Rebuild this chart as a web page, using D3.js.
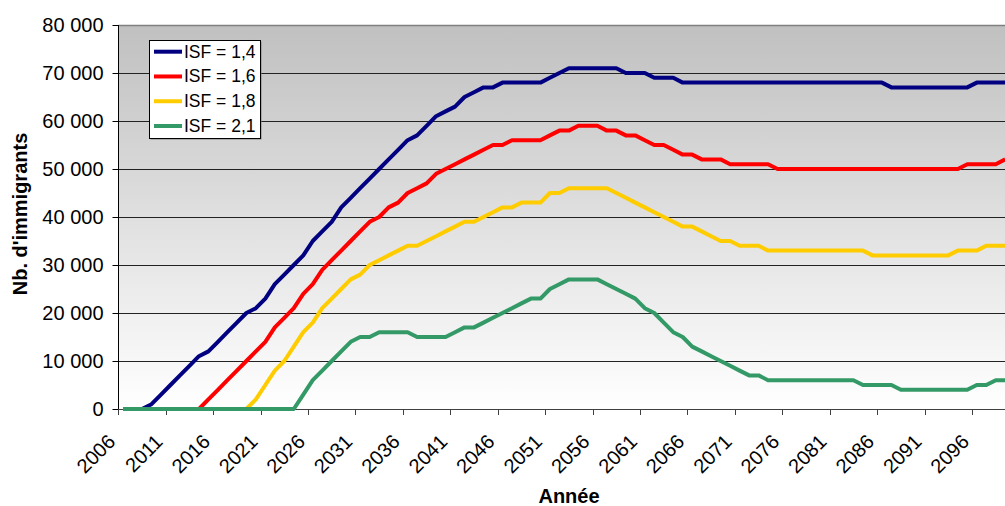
<!DOCTYPE html>
<html>
<head>
<meta charset="utf-8">
<script src="https://cdn.jsdelivr.net/npm/d3@7"></script>
<style>
  html, body { margin: 0; padding: 0; background: #ffffff; }
  svg { display: block; font-family: "Liberation Sans", Arial, sans-serif; }
</style>
</head>
<body>
<svg id="chart" width="1005" height="506"></svg>
<script>
// ---------- DATA ----------
const years = [2006,2007,2008,2009,2010,2011,2012,2013,2014,2015,2016,2017,2018,2019,2020,
  2021,2022,2023,2024,2025,2026,2027,2028,2029,2030,2031,2032,2033,2034,2035,2036,2037,2038,2039,2040,
  2041,2042,2043,2044,2045,2046,2047,2048,2049,2050,2051,2052,2053,2054,2055,2056,2057,2058,2059,2060,
  2061,2062,2063,2064,2065,2066,2067,2068,2069,2070,2071,2072,2073,2074,2075,2076,2077,2078,2079,2080,
  2081,2082,2083,2084,2085,2086,2087,2088,2089,2090,2091,2092,2093,2094,2095,2096,2097,2098,2099];

const xTickLabels = ["2006","2011","2016","2021","2026","2031","2036","2041","2046","2051",
  "2056","2061","2066","2071","2076","2081","2086","2091","2096"];

const yTicks = [0,10000,20000,30000,40000,50000,60000,70000,80000];

const seriesNames = ["ISF = 1,4","ISF = 1,6","ISF = 1,8","ISF = 2,1"];
const seriesColors = ["#000080","#ff0000","#ffcc00","#339966"];

// values in thousands, one per year 2006..2099
const isf14 = [0,0,0,1,3,5,7,9,11,12,14,16,18,20,21,23,26,28,30,32,35,37,39,42,44,46,48,50,52,54,
  56,57,59,61,62,63,65,66,67,67,68,68,68,68,68,69,70,71,71,71,71,71,71,70,70,70,69,69,69,68,
  68,68,68,68,68,68,68,68,68,68,68,68,68,68,68,68,68,68,68,68,68,67,67,67,67,67,67,67,67,67,
  68,68,68,68];
const isf16 = [0,0,0,0,0,0,0,0,0,2,4,6,8,10,12,14,17,19,21,24,26,29,31,33,35,37,39,40,42,43,
  45,46,47,49,50,51,52,53,54,55,55,56,56,56,56,57,58,58,59,59,59,58,58,57,57,56,55,55,54,53,
  53,52,52,52,51,51,51,51,51,50,50,50,50,50,50,50,50,50,50,50,50,50,50,50,50,50,50,50,50,51,
  51,51,51,52];
const isf18 = [0,0,0,0,0,0,0,0,0,0,0,0,0,0,2,5,8,10,13,16,18,21,23,25,27,28,30,31,32,33,
  34,34,35,36,37,38,39,39,40,41,42,42,43,43,43,45,45,46,46,46,46,46,45,44,43,42,41,40,39,38,
  38,37,36,35,35,34,34,34,33,33,33,33,33,33,33,33,33,33,33,32,32,32,32,32,32,32,32,32,33,33,
  33,34,34,34];
const isf21 = [0,0,0,0,0,0,0,0,0,0,0,0,0,0,0,0,0,0,0,3,6,8,10,12,14,15,15,16,16,16,
  16,15,15,15,15,16,17,17,18,19,20,21,22,23,23,25,26,27,27,27,27,26,25,24,23,21,20,18,16,15,
  13,12,11,10,9,8,7,7,6,6,6,6,6,6,6,6,6,6,5,5,5,5,4,4,4,4,4,4,4,4,
  5,5,6,6];

const seriesValues = [isf14, isf16, isf18, isf21];

// ---------- LAYOUT ----------
(function draw() {
const svg = d3.select("#chart");
const pLeft = 118.3, step = 9.486;
const pTop = 25, pBottom = 409;
const FONT = '"Liberation Sans", Arial, sans-serif';

const x = d3.scaleBand().domain(years).range([pLeft, pLeft + years.length * step]).padding(0);
const y = d3.scaleLinear().domain([0, 80000]).range([pBottom, pTop]);
const xc = yr => x(yr) + x.bandwidth() / 2;

// background gradient
const defs = svg.append("defs");
const grad = defs.append("linearGradient").attr("id", "bg")
  .attr("x1", 0).attr("y1", 0).attr("x2", 0).attr("y2", 1);
grad.append("stop").attr("offset", "0%").attr("stop-color", "#c0c0c0");
grad.append("stop").attr("offset", "100%").attr("stop-color", "#ffffff");

const plotRight = pLeft + years.length * step;
svg.append("rect")
  .attr("x", pLeft).attr("y", pTop)
  .attr("width", plotRight - pLeft).attr("height", pBottom - pTop)
  .attr("fill", "url(#bg)");

// plot top border
svg.append("line")
  .attr("x1", pLeft).attr("x2", plotRight)
  .attr("y1", pTop + 0.5).attr("y2", pTop + 0.5)
  .attr("stroke", "#808080").attr("stroke-width", 1.5);

// gridlines
svg.append("g").selectAll("line")
  .data(yTicks.filter(d => d > 0 && d < 80000))
  .join("line")
  .attr("x1", pLeft).attr("x2", plotRight)
  .attr("y1", d => Math.round(y(d)) + 0.5).attr("y2", d => Math.round(y(d)) + 0.5)
  .attr("stroke", "#222").attr("stroke-width", 1);

// Y axis
const yAxis = d3.axisLeft(y).tickValues(yTicks).tickSize(6).tickPadding(9)
  .tickFormat(d => d3.format(",")(d).replace(/,/g, " "));
const gy = svg.append("g").attr("transform", `translate(${Math.round(pLeft) + 0.5},0)`).call(yAxis);
gy.select(".domain").attr("stroke", "#000").attr("d", `M0,${pTop}V${pBottom}`);
gy.selectAll(".tick line").attr("stroke", "#000");
gy.selectAll(".tick text").attr("font-size", "20px").attr("font-family", FONT).attr("fill", "#000");

// X axis line
svg.append("line")
  .attr("x1", pLeft).attr("x2", plotRight)
  .attr("y1", pBottom + 0.5).attr("y2", pBottom + 0.5)
  .attr("stroke", "#404040").attr("stroke-width", 1.2);

const tickYears = xTickLabels.map(Number);
svg.append("g").selectAll("line").data(tickYears).join("line")
  .attr("x1", d => Math.round(x(d)) + 0.5).attr("x2", d => Math.round(x(d)) + 0.5)
  .attr("y1", pBottom).attr("y2", pBottom + 6)
  .attr("stroke", "#404040");

svg.append("g").selectAll("text").data(xTickLabels).join("text")
  .attr("transform", d => `translate(${xc(+d) - 6.5},443) rotate(-45)`)
  .attr("text-anchor", "end")
  .attr("font-size", "20px").attr("font-family", FONT).attr("fill", "#000")
  .text(d => d);

// Axis titles
svg.append("text")
  .attr("x", 569).attr("y", 503)
  .attr("text-anchor", "middle").attr("font-weight", "bold")
  .attr("font-size", "20px").attr("font-family", FONT)
  .text("Année");

svg.append("text")
  .attr("transform", `translate(27,${(pTop + pBottom) / 2 - 3}) rotate(-90)`)
  .attr("text-anchor", "middle").attr("font-weight", "bold")
  .attr("font-size", "20px").attr("font-family", FONT)
  .text("Nb. d'immigrants");

// Lines
const line = d3.line().x((d, i) => xc(years[i])).y(d => y(d * 1000));
svg.append("g").selectAll("path").data(seriesValues).join("path")
  .attr("d", d => line(d))
  .attr("fill", "none")
  .attr("stroke", (d, i) => seriesColors[i])
  .attr("stroke-width", 4)
  .attr("stroke-linejoin", "round");

// Legend
const lg = svg.append("g");
lg.append("rect").attr("x", 150.5).attr("y", 41.5).attr("width", 111).attr("height", 98)
  .attr("fill", "#808080");
lg.append("rect").attr("x", 149.5).attr("y", 40.5).attr("width", 111).attr("height", 98)
  .attr("fill", "#fff").attr("stroke", "#000").attr("stroke-width", 1);
const rowY = d3.scaleLinear().domain([0, 3]).range([51.7, 126]);
seriesNames.forEach((name, i) => {
  lg.append("line")
    .attr("x1", 154).attr("x2", 182)
    .attr("y1", rowY(i)).attr("y2", rowY(i))
    .attr("stroke", seriesColors[i]).attr("stroke-width", 4);
  lg.append("text")
    .attr("x", 184).attr("y", rowY(i) + 6)
    .attr("font-size", "17.5px").attr("font-family", FONT)
    .text(name);
});
})();
</script>
</body>
</html>
